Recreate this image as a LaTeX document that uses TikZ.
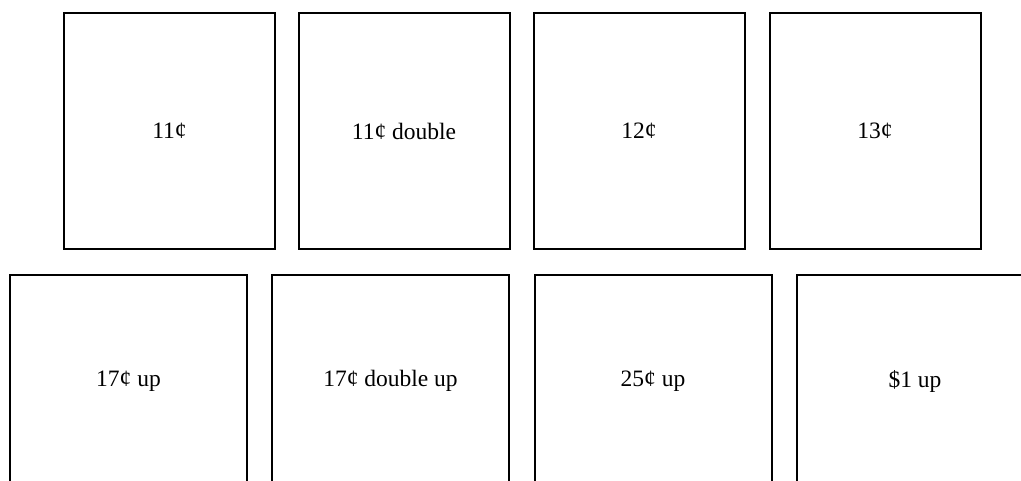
\documentclass[tikz,border=0pt]{standalone}
\usepackage{fontspec}
\setmainfont{Liberation Serif}
\tikzset{
  stamp/.style={draw=black, line width=2pt, inner sep=0pt, font=\fontsize{23.5}{28}\selectfont},
  toprow/.style={stamp, minimum width=211pt, minimum height=236pt},
  botrow/.style={stamp, minimum width=237pt, minimum height=212pt},
}
\begin{document}
\begin{tikzpicture}[x=1pt,y=-1pt]
\useasboundingbox (0,0) rectangle (1021,481);
\clip (0,0) rectangle (1021,481);
\node[toprow] (a) at (169.5,131) {11¢};
\node[toprow] (b) at (404,131) {11¢ double};
\node[toprow] (c) at (639,131) {12¢};
\node[toprow] (d) at (875,131) {13¢};
\node[botrow] (e) at (128.5,381) {17¢ up};
\node[botrow] (f) at (390.5,381) {17¢ double up};
\node[botrow] (g) at (653,381) {25¢ up};
\node[botrow] (h) at (915,381) {\$1 up};
\end{tikzpicture}
\end{document}
